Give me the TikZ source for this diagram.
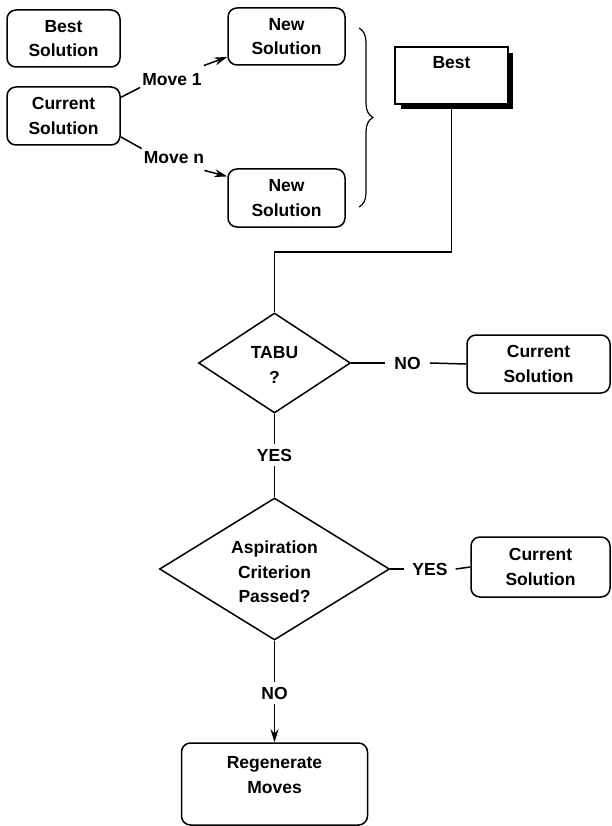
\documentclass[tikz,border=0pt]{standalone}
\usepackage{fontspec}
\setmainfont{Liberation Sans}
\usetikzlibrary{shapes.geometric,arrows.meta,decorations.pathreplacing,calc}
\begin{document}
\begin{tikzpicture}[x=1pt,y=-1pt,
  every node/.style={font=\bfseries\fontsize{17.5}{24.5}\selectfont},
  rbox/.style={draw,line width=1.5pt,rounded corners=9pt,align=center,inner sep=0pt},
  dbox/.style={draw,line width=1.5pt,diamond,inner sep=0pt},
  txt/.style={align=center,inner sep=0pt},
  lab/.style={inner xsep=9pt,inner ysep=5pt,text height=12.5pt,text depth=0pt},
  mlab/.style={inner sep=2pt,text height=12.5pt,text depth=0pt},
  conn/.style={line width=1.5pt},
  arr/.style={line width=1.5pt,-{Stealth[length=13pt,width=8pt]}}]
\useasboundingbox (0,0) rectangle (611,826);
% top part
\node[rbox,minimum width=113pt,minimum height=57pt] (bestsol) at (63.5,38.5) {Best\\Solution};
\node[rbox,minimum width=113pt,minimum height=58pt] (cursol) at (63.5,116) {Current\\Solution};
\node[rbox,minimum width=117pt,minimum height=57pt] (new1) at (286.5,36.5) {New\\Solution};
\node[rbox,minimum width=117pt,minimum height=58pt] (new2) at (286.5,198) {New\\Solution};
\node[mlab] (move1) at (172,79) {Move 1};
\node[mlab] (moven) at (174,157) {Move n};
\draw[conn] (cursol.18) -- (move1.south west);
\draw[arr] ($(move1.north east)+(0,-5)$) -- (new1.199);
\draw[conn] (cursol.-20) -- (moven.north west);
\draw[arr] ($(moven.south east)+(-2,5)$) -- (new2.160);
\draw[line width=1.2pt,decorate,decoration={brace,amplitude=14pt}] (359,28) -- (359,207);
% Best box with shadow
\fill (401,53) rectangle (513,109);
\node[draw,fill=white,line width=1.5pt,minimum width=113pt,minimum height=57pt,inner sep=0pt] (best) at (451.5,75.5) {};
\node[txt] (besttxt) at (451.5,63) {Best};
% flow
\coordinate (turn) at (274.5,252);
\node[dbox,minimum width=152pt,minimum height=100pt] (tabu) at (274.5,363) {};
\node[txt] (tabutxt) at (274.5,365) {TABU\\?};
\node[rbox,minimum width=143pt,minimum height=58pt] (cur2) at (538.5,364) {Current\\Solution};
\node[lab] (no1) at (407.5,363) {NO};
\draw[conn] (best.south) |- (turn) -- (tabu.north);
\draw[conn] (tabu.east) -- (no1.west);
\draw[conn] (no1.east) -- (cur2.west);
\node[dbox,minimum width=230pt,minimum height=142pt] (asp) at (274.5,569) {};
\node[txt] (asptxt) at (274.5,572) {Aspiration\\Criterion\\Passed?};
\node[lab] (yes1) at (274.5,455) {YES};
\draw[conn] (tabu.south) -- (yes1.north);
\draw[conn] (yes1.south) -- (asp.north);
\node[rbox,minimum width=139pt,minimum height=60pt] (cur3) at (540.5,567) {Current\\Solution};
\node[lab,inner xsep=8pt] (yes2) at (430,569) {YES};
\draw[conn] (asp.east) -- (yes2.west);
\draw[conn] (yes2.east) -- (cur3.west);
\node[rbox,minimum width=186pt,minimum height=82pt] (regen) at (274.5,784) {};
\node[txt] (regentxt) at (274.5,775) {Regenerate\\Moves};
\node[lab] (no2) at (274.5,693) {NO};
\draw[conn] (asp.south) -- (no2.north);
\draw[arr] (no2.south) -- (regen.north);
\end{tikzpicture}
\end{document}
